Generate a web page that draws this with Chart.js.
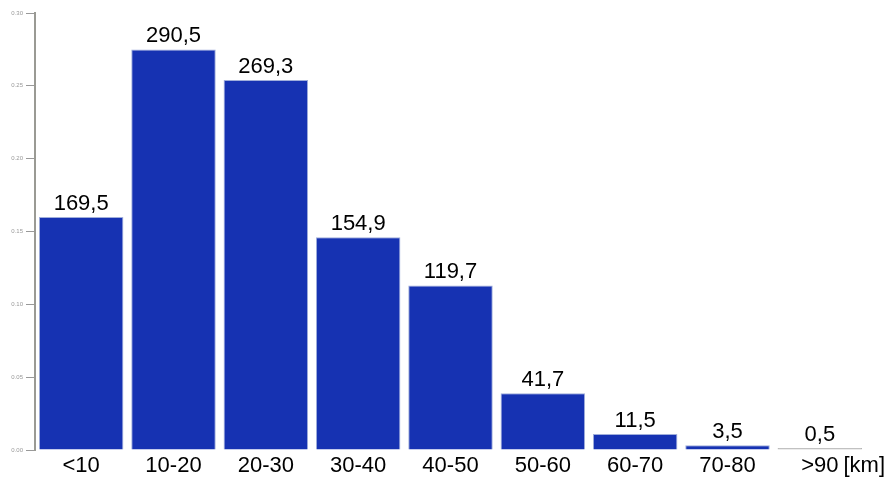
<!DOCTYPE html>
<html>
<head>
<meta charset="utf-8">
<script src="https://cdn.jsdelivr.net/npm/chart.js@4"></script>
<style>
  html, body { margin: 0; padding: 0; background: #fff; }
  #wrap { width: 889px; height: 480px; position: relative; }
</style>
</head>
<body>
<div id="wrap"><canvas id="distChart"></canvas></div>
<script>
// distance classes and the raw values printed above each bar
const categories = ['<10', '10-20', '20-30', '30-40', '40-50', '50-60', '60-70', '70-80', '>90'];
const rawLabels = ['169,5', '290,5', '269,3', '154,9', '119,7', '41,7', '11,5', '3,5', '0,5'];
// bar heights (share)
const shares = [0.160, 0.275, 0.254, 0.146, 0.113, 0.039, 0.011, 0.0033, 0.0005];
const yTicks = [0, 0.05, 0.10, 0.15, 0.20, 0.25, 0.30];
const unitLabel = '[km]';

const FONT = '"Liberation Sans", Arial, sans-serif';
const BLUE = '#1632b2';

// value labels above the bars + unit next to the last category
const valueLabels = {
    id: 'valueLabels',
    afterDatasetsDraw(chart) {
        const ctx = chart.ctx;
        const meta = chart.getDatasetMeta(0);
        ctx.save();
        ctx.font = '22px ' + FONT;
        ctx.fillStyle = '#000';
        ctx.textAlign = 'center';
        ctx.textBaseline = 'alphabetic';
        meta.data.forEach((bar, i) => {
            ctx.fillText(rawLabels[i], bar.x, bar.y - 7);
        });
        // unit after the last tick label
        const xScale = chart.scales.x;
        const last = categories.length - 1;
        const lx = xScale.getPixelForValue(last);
        const w = ctx.measureText(categories[last]).width;
        ctx.textAlign = 'left';
        ctx.textBaseline = 'middle';
        ctx.fillText(unitLabel, lx + w / 2 + 5, xScale.top + 16);
        ctx.restore();
    }
};

const ctx = document.getElementById('distChart');
new Chart(ctx.getContext('2d'), {
    type: 'bar',
    data: {
        labels: categories,
        datasets: [{
            data: shares,
            backgroundColor: c => c.dataIndex === categories.length - 1 ? '#b4b4b4' : BLUE,
            borderColor: c => c.dataIndex === categories.length - 1 ? '#b4b4b4' : 'rgba(150, 165, 215, 0.9)',
            borderWidth: 1,
            minBarLength: 2,
            barPercentage: 1.0,
            categoryPercentage: 0.915
        }]
    },
    options: {
        responsive: true,
        maintainAspectRatio: false,
        animation: false,
        layout: {
            padding: { top: 13, right: 23, left: 0, bottom: 0 }
        },
        plugins: {
            legend: { display: false },
            tooltip: { enabled: false }
        },
        scales: {
            x: {
                grid: { display: false, drawTicks: false },
                border: { display: false },
                ticks: {
                    color: '#000',
                    font: { size: 22, family: FONT },
                    padding: 3,
                    maxRotation: 0,
                    autoSkip: false
                },
                afterFit(scale) { scale.height = 30; }
            },
            y: {
                min: 0,
                max: 0.30,
                afterBuildTicks(scale) {
                    scale.ticks = yTicks.map(v => ({ value: v }));
                },
                grid: {
                    display: true,
                    drawOnChartArea: false,
                    drawTicks: true,
                    tickLength: 9,
                    color: '#999',
                    lineWidth: 1
                },
                border: { display: true, color: '#9a9a94', width: 2 },
                ticks: {
                    color: '#999',
                    font: { size: 6, family: FONT },
                    padding: 3,
                    callback: v => Number(v).toFixed(2)
                },
                afterFit(scale) { scale.width = 35; }
            }
        }
    },
    plugins: [valueLabels]
});
</script>
</body>
</html>
